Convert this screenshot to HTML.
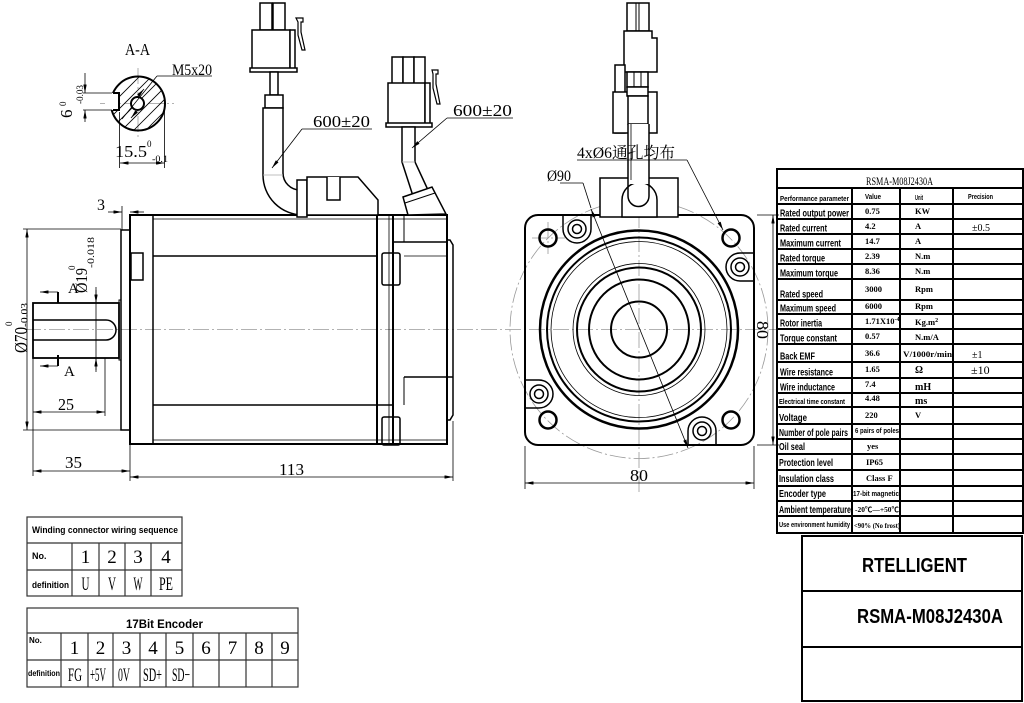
<!DOCTYPE html>
<html><head><meta charset="utf-8"><style>
html,body{margin:0;padding:0;background:#fff;}
svg{display:block;}
.d{font-family:"Liberation Serif","Noto Serif CJK SC",serif;font-size:17px;fill:#000;stroke:none;}
.s{font-family:"Liberation Serif",serif;font-size:9px;fill:#000;stroke:none;}
.l{font-family:"Liberation Sans","Noto Sans CJK SC",sans-serif;font-weight:bold;font-size:10px;fill:#000;stroke:none;}
.ls{font-family:"Liberation Sans",sans-serif;font-weight:bold;font-size:7.5px;fill:#000;stroke:none;}
.v{font-family:"Liberation Serif","Noto Sans CJK SC",serif;font-weight:bold;font-size:8.5px;fill:#000;stroke:none;}
.n{font-family:"Liberation Serif",serif;font-size:19px;fill:#000;stroke:none;}
</style></head><body>
<svg width="1024" height="703" viewBox="0 0 1024 703" xmlns="http://www.w3.org/2000/svg">
<defs>
<marker id="a" viewBox="0 0 10 4" refX="10" refY="2" markerWidth="9" markerHeight="3.4" markerUnits="userSpaceOnUse" orient="auto-start-reverse"><path d="M0,0L10,2L0,4z" fill="#000"/></marker>
<clipPath id="cs"><circle cx="138" cy="103.5" r="27"/></clipPath>
</defs>
<rect width="1024" height="703" fill="#fff"/>

<!-- center lines -->
<g stroke="#999" stroke-width="0.8" stroke-dasharray="16 3 2 3" fill="none">
<line x1="25" y1="329.5" x2="790" y2="329.5"/>
<line x1="639" y1="140" x2="639" y2="492"/>
<circle cx="639" cy="329.5" r="129"/>
<line x1="100" y1="103.5" x2="174" y2="103.5"/>
<line x1="138" y1="68" x2="138" y2="138"/>
<line x1="532" y1="238" x2="565" y2="238"/>
<line x1="548" y1="222" x2="548" y2="254"/>
</g>

<!-- ===== A-A section ===== -->
<g stroke="#000" fill="none">
<g clip-path="url(#cs)" stroke-width="0.8">
<line x1="80" y1="160" x2="190" y2="50"/>
<line x1="92" y1="160" x2="202" y2="50"/>
<line x1="104" y1="160" x2="214" y2="50"/>
<line x1="116" y1="160" x2="226" y2="50"/>
<line x1="128" y1="160" x2="238" y2="50"/>
<line x1="68" y1="160" x2="178" y2="50"/>
<line x1="56" y1="160" x2="166" y2="50"/>
<line x1="44" y1="160" x2="154" y2="50"/>
<line x1="32" y1="160" x2="142" y2="50"/>
</g>
<circle cx="138" cy="103.5" r="27" stroke-width="2"/>
<rect x="105" y="93" width="14" height="17" fill="#fff" stroke="none"/>
<path d="M113,93 H119 V110 H113" stroke-width="2"/>
<circle cx="137.5" cy="103.5" r="6.5" fill="#fff" stroke-width="2"/>
<g stroke-width="0.8">
<line x1="83" y1="93" x2="112" y2="93"/>
<line x1="83" y1="110" x2="112" y2="110"/>
<line x1="85" y1="73" x2="85" y2="93" marker-end="url(#a)"/>
<line x1="85" y1="122" x2="85" y2="110" marker-end="url(#a)"/>
<line x1="119.5" y1="112" x2="119.5" y2="168"/>
<line x1="164.5" y1="106" x2="164.5" y2="168"/>
<line x1="120" y1="163" x2="164.5" y2="163" marker-start="url(#a)" marker-end="url(#a)"/>
<line x1="157" y1="76" x2="212" y2="76"/>
<line x1="157" y1="76" x2="122" y2="119"/>
<line x1="138" y1="96" x2="144" y2="89" marker-end="url(#a)"/>
<line x1="137" y1="111" x2="131" y2="118" marker-end="url(#a)"/>
</g>
</g>
<text class="d" x="125" y="55" textLength="25" lengthAdjust="spacingAndGlyphs">A-A</text>
<text class="d" x="172" y="75" style="font-size:16px" textLength="40" lengthAdjust="spacingAndGlyphs">M5x20</text>
<text class="d" transform="translate(72,118) rotate(-90)">6</text>
<text class="s" transform="translate(66,106) rotate(-90)">0</text>
<text class="s" transform="translate(83,104) rotate(-90)" textLength="19" lengthAdjust="spacingAndGlyphs">-0.03</text>
<text class="d" x="115" y="157" textLength="32" lengthAdjust="spacingAndGlyphs">15.5</text>
<text class="s" x="147" y="147">0</text>
<text class="s" x="152" y="162" textLength="16" lengthAdjust="spacingAndGlyphs">-0.1</text>

<!-- ===== Side view ===== -->
<g stroke="#000" fill="none">
<rect x="121" y="230" width="9" height="200" stroke-width="1.5"/>
<rect x="119" y="300" width="2" height="60" stroke-width="1"/>
<rect x="33" y="303" width="86" height="55" stroke-width="1.8"/>
<path d="M33,320 H106 A10,10 0 0 1 106,340 H33" stroke-width="1.5"/>
<rect x="130" y="215" width="317" height="229" stroke-width="2"/>
<line x1="153" y1="215" x2="153" y2="444" stroke-width="1.5"/>
<line x1="377" y1="215" x2="377" y2="444" stroke-width="2"/>
<line x1="389" y1="215" x2="389" y2="444" stroke-width="0.8"/>
<line x1="393" y1="215" x2="393" y2="444" stroke-width="2"/>
<line x1="404" y1="215" x2="404" y2="242" stroke-width="1"/>
<line x1="404" y1="377" x2="404" y2="405" stroke-width="1"/>
<line x1="153" y1="219" x2="447" y2="219" stroke-width="0.8"/>
<line x1="153" y1="440" x2="447" y2="440" stroke-width="0.8"/>
<line x1="153" y1="256" x2="377" y2="256" stroke-width="1.6"/>
<line x1="404" y1="256" x2="447" y2="256" stroke-width="0.8"/>
<line x1="153" y1="405" x2="393" y2="405" stroke-width="1.6"/>
<line x1="393" y1="242" x2="447" y2="242" stroke-width="1.6"/>
<line x1="404" y1="377" x2="453" y2="377" stroke-width="1.6"/>
<path d="M447,240 H450 L453,245 V415 L450,420 H447" stroke-width="1.5"/>
<rect x="131" y="253" width="12" height="27" stroke-width="1.5"/>
<rect x="382" y="253" width="18" height="32" rx="2" stroke-width="1.5"/>
<rect x="382" y="417" width="18" height="28" rx="2" stroke-width="1.5"/>
</g>

<!-- side view connectors -->
<g stroke="#000" fill="#fff" stroke-width="1.5">
<rect x="260" y="3" width="12" height="27"/>
<rect x="273" y="3" width="12" height="27"/>
<rect x="252" y="30" width="38" height="40"/>
<rect x="290" y="30" width="5" height="40"/>
<rect x="250" y="68" width="47" height="4"/>
<path d="M296,18 h7 v4 h-2 v10 l4,18 h-3 l-4,-15 v-13 z" stroke-width="1.2"/>
<rect x="270" y="72" width="8" height="23"/>
<rect x="265" y="95" width="18" height="13"/>
<path d="M263,108 V175 A40,40 0 0 0 303,215 H307 V190 H300 A17,17 0 0 1 283,173 V108 Z"/>
<line x1="263" y1="175" x2="283" y2="175" stroke="#aaa" stroke-width="0.8"/>
<rect x="297" y="180" width="10" height="37"/>
<path d="M307,177 H358 L378,200 V215 H307 Z"/>
<path d="M327,177 V200 H340 V177"/>

<rect x="392" y="57" width="11" height="27"/>
<rect x="403" y="57" width="11" height="27"/>
<rect x="414" y="57" width="11" height="27"/>
<rect x="388" y="83" width="37" height="42"/>
<rect x="425" y="83" width="5" height="42"/>
<rect x="386" y="123" width="46" height="4"/>
<path d="M432,70 h6 v4 h-2 v10 l4,20 h-3 l-4,-16 v-14 z" stroke-width="1.2"/>
<path d="M402,127 V162 L413,196 L428,190 L415,162 V127 Z"/>
<line x1="402" y1="162" x2="415" y2="162" stroke="#aaa" stroke-width="0.8"/>
<path d="M403,197 L432,187 L446,214 L408,215 Z"/>
<line x1="405" y1="203" x2="435" y2="193" stroke-width="1"/>
</g>

<!-- side view dimensions -->
<g stroke="#000" stroke-width="0.8" fill="none">
<line x1="122" y1="206" x2="122" y2="230"/>
<line x1="108" y1="212" x2="122" y2="212" marker-end="url(#a)"/>
<line x1="144" y1="212" x2="130" y2="212" marker-end="url(#a)"/>
<line x1="23" y1="229" x2="121" y2="229"/>
<line x1="23" y1="430" x2="121" y2="430"/>
<line x1="27" y1="229" x2="27" y2="430" marker-start="url(#a)" marker-end="url(#a)"/>
<line x1="96" y1="287" x2="96" y2="372"/>
<line x1="96" y1="290" x2="96" y2="303" marker-end="url(#a)"/>
<line x1="96" y1="370" x2="96" y2="358" marker-end="url(#a)"/>
<line x1="58" y1="292" x2="58" y2="303" stroke-width="2"/>
<line x1="58" y1="355" x2="58" y2="366" stroke-width="2"/>
<line x1="58" y1="292" x2="40" y2="292" marker-end="url(#a)"/>
<line x1="58" y1="366" x2="40" y2="366" marker-end="url(#a)"/>
<line x1="33" y1="358" x2="33" y2="476"/>
<line x1="105" y1="358" x2="105" y2="416"/>
<line x1="33" y1="412" x2="105" y2="412" marker-start="url(#a)" marker-end="url(#a)"/>
<line x1="130" y1="444" x2="130" y2="481"/>
<line x1="453" y1="421" x2="453" y2="481"/>
<line x1="33" y1="471" x2="130" y2="471" marker-start="url(#a)" marker-end="url(#a)"/>
<line x1="130" y1="477" x2="453" y2="477" marker-start="url(#a)" marker-end="url(#a)"/>
<line x1="302" y1="129" x2="372" y2="129"/>
<line x1="302" y1="129" x2="272" y2="168" marker-end="url(#a)"/>
<line x1="447" y1="118" x2="513" y2="118"/>
<line x1="447" y1="118" x2="412" y2="148" marker-end="url(#a)"/>
</g>
<text class="d" x="97" y="210" style="font-size:16px">3</text>
<text class="d" transform="translate(27,353) rotate(-90)" style="font-size:18px" textLength="26" lengthAdjust="spacingAndGlyphs">Ø70</text>
<text class="s" transform="translate(12,326) rotate(-90)">0</text>
<text class="s" transform="translate(27.5,327) rotate(-90)" textLength="24" lengthAdjust="spacingAndGlyphs">-0.03</text>
<text class="d" transform="translate(87,293) rotate(-90)" textLength="25" lengthAdjust="spacingAndGlyphs">Ø19</text>
<text class="s" transform="translate(75,270) rotate(-90)">0</text>
<text class="s" transform="translate(94,268) rotate(-90)" textLength="31" lengthAdjust="spacingAndGlyphs">-0.018</text>
<text class="d" x="68" y="293" style="font-size:15px">A</text>
<text class="d" x="64" y="376" style="font-size:15px">A</text>
<text class="d" x="58" y="410" textLength="16" lengthAdjust="spacingAndGlyphs">25</text>
<text class="d" x="65" y="468" textLength="17" lengthAdjust="spacingAndGlyphs">35</text>
<text class="d" x="279" y="475" textLength="25" lengthAdjust="spacingAndGlyphs">113</text>
<text class="d" x="313" y="127" textLength="57" lengthAdjust="spacingAndGlyphs">600±20</text>
<text class="d" x="453" y="116" textLength="59" lengthAdjust="spacingAndGlyphs">600±20</text>

<!-- ===== Front view ===== -->
<g stroke="#000" fill="none">
<rect x="525" y="215" width="229" height="230" rx="13" stroke-width="2"/>
<circle cx="639" cy="329.5" r="99" stroke-width="2.5"/>
<circle cx="639" cy="329.5" r="92" stroke-width="2"/>
<circle cx="639" cy="329.5" r="88" stroke-width="0.8"/>
<circle cx="639" cy="329.5" r="66" stroke-width="0.8"/>
<circle cx="639" cy="329.5" r="62" stroke-width="2"/>
<circle cx="639" cy="329.5" r="50" stroke-width="2"/>
<circle cx="639" cy="329.5" r="28" stroke-width="2"/>
<g stroke-width="2.5">
<circle cx="548" cy="238" r="8.5"/>
<circle cx="731" cy="238" r="8.5"/>
<circle cx="548" cy="420" r="8.5"/>
<circle cx="731" cy="420" r="8.5"/>
</g>
<g stroke-width="1.5">
<path d="M563,215 V229 A14,14 0 0 0 591,229 V215"/>
<circle cx="577" cy="229" r="9"/><circle cx="577" cy="229" r="4.5"/>
<path d="M754,253 H740 A14,14 0 0 0 740,281 H754"/>
<circle cx="740" cy="267" r="9"/><circle cx="740" cy="267" r="4.5"/>
<path d="M525,380 H539 A14,14 0 0 1 539,408 H525"/>
<circle cx="539" cy="394" r="9"/><circle cx="539" cy="394" r="4.5"/>
<path d="M688,445 V431 A14,14 0 0 1 716,431 V445"/>
<circle cx="702" cy="431" r="9"/><circle cx="702" cy="431" r="4.5"/>
</g>
</g>
<!-- front connector -->
<g stroke="#000" fill="#fff" stroke-width="1.5">
<rect x="627" y="3" width="22" height="28"/>
<line x1="636" y1="3" x2="636" y2="31" stroke-width="1"/>
<line x1="639" y1="3" x2="639" y2="31" stroke-width="1"/>
<path d="M624,31 H652 V38 H657 V72 H624 Z"/>
<rect x="615" y="65" width="10" height="68"/>
<rect x="627" y="72" width="21" height="15"/>
<line x1="634" y1="72" x2="634" y2="87" stroke-width="1"/>
<line x1="641" y1="72" x2="641" y2="87" stroke-width="1"/>
<rect x="613" y="92" width="44" height="41"/>
<rect x="627" y="87" width="21" height="9"/>
<rect x="628" y="96" width="20" height="28"/>
<rect x="600" y="178" width="78" height="39"/>
<path d="M622,217 V200 A17.5,17.5 0 0 1 657,200 V217 Z"/>
<rect x="628" y="124" width="21" height="60" stroke="none"/>
<path d="M628,124 V196 A10.5,10.5 0 0 0 649,196 V124" fill="none"/>
<line x1="631" y1="124" x2="631" y2="180" stroke-width="0.8"/>
</g>
<g stroke="#000" stroke-width="0.8" fill="none">
<line x1="577" y1="160" x2="687" y2="160"/>
<line x1="687" y1="160" x2="723" y2="230" marker-end="url(#a)"/>
<line x1="560" y1="183" x2="583" y2="183"/>
<line x1="583" y1="183" x2="591" y2="208"/>
<line x1="591" y1="209" x2="688" y2="448" marker-start="url(#a)" marker-end="url(#a)"/>
<line x1="525" y1="446" x2="525" y2="489"/>
<line x1="754" y1="446" x2="754" y2="489"/>
<line x1="525" y1="483" x2="754" y2="483" marker-start="url(#a)" marker-end="url(#a)"/>
<line x1="757" y1="215" x2="779" y2="215"/>
<line x1="757" y1="445" x2="779" y2="445"/>
<line x1="773" y1="215" x2="773" y2="445" marker-start="url(#a)" marker-end="url(#a)"/>
</g>
<text class="d" x="577" y="158" style="font-size:16px" textLength="98" lengthAdjust="spacingAndGlyphs">4xØ6通孔均布</text>
<text class="d" x="547" y="181" style="font-size:16px" textLength="24" lengthAdjust="spacingAndGlyphs">Ø90</text>
<text class="d" x="630" y="481" textLength="18" lengthAdjust="spacingAndGlyphs">80</text>
<text class="d" transform="translate(757,321) rotate(90)" textLength="18" lengthAdjust="spacingAndGlyphs">80</text>

<!-- ===== Performance table ===== -->
<g stroke="#000" stroke-width="2" fill="none">
<rect x="777" y="169" width="246" height="364"/>
<line x1="777" y1="188" x2="1023" y2="188"/>
<line x1="777" y1="204" x2="1023" y2="204"/>
<line x1="777" y1="219" x2="1023" y2="219"/>
<line x1="777" y1="234" x2="1023" y2="234"/>
<line x1="777" y1="249" x2="1023" y2="249"/>
<line x1="777" y1="264" x2="1023" y2="264"/>
<line x1="777" y1="279" x2="1023" y2="279"/>
<line x1="777" y1="300" x2="1023" y2="300"/>
<line x1="777" y1="314" x2="1023" y2="314"/>
<line x1="777" y1="329" x2="1023" y2="329"/>
<line x1="777" y1="344" x2="1023" y2="344"/>
<line x1="777" y1="362" x2="1023" y2="362"/>
<line x1="777" y1="378" x2="1023" y2="378"/>
<line x1="777" y1="393" x2="1023" y2="393"/>
<line x1="777" y1="407" x2="1023" y2="407"/>
<line x1="777" y1="424" x2="1023" y2="424"/>
<line x1="777" y1="439" x2="1023" y2="439"/>
<line x1="777" y1="454" x2="1023" y2="454"/>
<line x1="777" y1="470" x2="1023" y2="470"/>
<line x1="777" y1="486" x2="1023" y2="486"/>
<line x1="777" y1="501" x2="1023" y2="501"/>
<line x1="777" y1="516" x2="1023" y2="516"/>
<line x1="852" y1="188" x2="852" y2="533"/>
<line x1="900" y1="188" x2="900" y2="533"/>
<line x1="953" y1="188" x2="953" y2="533"/>
</g>
<text class="v" x="866" y="185" style="font-size:12px;font-weight:normal" textLength="67" lengthAdjust="spacingAndGlyphs">RSMA-M08J2430A</text>
<text class="ls" x="780" y="201" textLength="69" lengthAdjust="spacingAndGlyphs">Performance parameter</text>
<text class="ls" x="865" y="199" textLength="16" lengthAdjust="spacingAndGlyphs">Value</text>
<text class="ls" x="915" y="200" textLength="8" lengthAdjust="spacingAndGlyphs">Unit</text>
<text class="ls" x="968" y="199" textLength="25" lengthAdjust="spacingAndGlyphs">Precision</text>

<g>
<text class="l" x="780" y="216.5" textLength="69" lengthAdjust="spacingAndGlyphs">Rated output power</text>
<text class="l" x="780" y="231.5" textLength="47" lengthAdjust="spacingAndGlyphs">Rated current</text>
<text class="l" x="780" y="246.5" textLength="61" lengthAdjust="spacingAndGlyphs">Maximum current</text>
<text class="l" x="780" y="261.5" textLength="45" lengthAdjust="spacingAndGlyphs">Rated torque</text>
<text class="l" x="780" y="276.5" textLength="58" lengthAdjust="spacingAndGlyphs">Maximum torque</text>
<text class="l" x="780" y="297.5" textLength="43" lengthAdjust="spacingAndGlyphs">Rated speed</text>
<text class="l" x="780" y="311.5" textLength="56" lengthAdjust="spacingAndGlyphs">Maximum speed</text>
<text class="l" x="780" y="326.5" textLength="42" lengthAdjust="spacingAndGlyphs">Rotor inertia</text>
<text class="l" x="780" y="341.5" textLength="57" lengthAdjust="spacingAndGlyphs">Torque constant</text>
<text class="l" x="780" y="359.5" textLength="35" lengthAdjust="spacingAndGlyphs">Back EMF</text>
<text class="l" x="780" y="375.5" textLength="53" lengthAdjust="spacingAndGlyphs">Wire resistance</text>
<text class="l" x="780" y="390.5" textLength="55" lengthAdjust="spacingAndGlyphs">Wire inductance</text>
<text class="ls" x="779" y="404" textLength="66" lengthAdjust="spacingAndGlyphs">Electrical time constant</text>
<text class="l" x="779" y="421" textLength="28" lengthAdjust="spacingAndGlyphs">Voltage</text>
<text class="l" x="779" y="436" textLength="69" lengthAdjust="spacingAndGlyphs">Number of pole pairs</text>
<text class="l" x="779" y="450" textLength="26" lengthAdjust="spacingAndGlyphs">Oil seal</text>
<text class="l" x="779" y="466" textLength="54" lengthAdjust="spacingAndGlyphs">Protection level</text>
<text class="l" x="779" y="482" textLength="55" lengthAdjust="spacingAndGlyphs">Insulation class</text>
<text class="l" x="779" y="497" textLength="47" lengthAdjust="spacingAndGlyphs">Encoder type</text>
<text class="l" x="779" y="513" textLength="72" lengthAdjust="spacingAndGlyphs">Ambient temperature</text>
<text class="ls" x="779" y="527" textLength="71" lengthAdjust="spacingAndGlyphs">Use environment humidity</text>
</g>
<g>
<text class="v" x="865" y="214">0.75</text>
<text class="v" x="865" y="229">4.2</text>
<text class="v" x="865" y="244">14.7</text>
<text class="v" x="865" y="259">2.39</text>
<text class="v" x="865" y="274">8.36</text>
<text class="v" x="865" y="292">3000</text>
<text class="v" x="865" y="309">6000</text>
<text class="v" x="865" y="324">1.71X10<tspan font-size="6" dy="-3">-4</tspan></text>
<text class="v" x="865" y="339">0.57</text>
<text class="v" x="865" y="356">36.6</text>
<text class="v" x="865" y="372">1.65</text>
<text class="v" x="865" y="387">7.4</text>
<text class="v" x="865" y="401">4.48</text>
<text class="v" x="865" y="418">220</text>
<text class="ls" x="855" y="433" textLength="44" lengthAdjust="spacingAndGlyphs">6 pairs of poles</text>
<text class="v" x="867" y="449">yes</text>
<text class="v" x="866" y="465">IP65</text>
<text class="v" x="866" y="481">Class F</text>
<text class="ls" x="853" y="496" textLength="46" lengthAdjust="spacingAndGlyphs">17-bit magnetic</text>
<text class="v" x="855" y="512" style="font-size:7.5px" textLength="44" lengthAdjust="spacingAndGlyphs">-20℃—+50℃</text>
<text class="v" x="854" y="528" style="font-size:7.5px" textLength="46" lengthAdjust="spacingAndGlyphs">&lt;90% (No frost)</text>

<text class="v" x="915" y="214">KW</text>
<text class="v" x="915" y="229">A</text>
<text class="v" x="915" y="244">A</text>
<text class="v" x="915" y="259">N.m</text>
<text class="v" x="915" y="274">N.m</text>
<text class="v" x="915" y="292">Rpm</text>
<text class="v" x="915" y="309">Rpm</text>
<text class="v" x="915" y="325">Kg.m<tspan font-size="6" dy="-3">2</tspan></text>
<text class="v" x="915" y="340">N.m/A</text>
<text class="v" x="903" y="357" style="font-size:8px" textLength="49" lengthAdjust="spacingAndGlyphs">V/1000r/min</text>
<text class="v" x="915" y="373" style="font-size:10px">Ω</text>
<text class="v" x="915" y="390" style="font-size:10px">mH</text>
<text class="v" x="915" y="404" style="font-size:10px">ms</text>
<text class="v" x="915" y="418">V</text>

<text class="v" x="972" y="231" style="font-size:10px;font-weight:normal">±0.5</text>
<text class="v" x="972" y="358" style="font-size:10px;font-weight:normal">±1</text>
<text class="v" x="971" y="374" style="font-size:12px;font-weight:normal">±10</text>
</g>

<!-- Title block -->
<g stroke="#000" stroke-width="2" fill="none">
<rect x="802" y="536" width="220" height="165"/>
<line x1="802" y1="591" x2="1022" y2="591"/>
<line x1="802" y1="647" x2="1022" y2="647"/>
</g>
<text class="l" x="862" y="572" style="font-size:20px" textLength="105" lengthAdjust="spacingAndGlyphs">RTELLIGENT</text>
<text class="l" x="857" y="623" style="font-size:20px" textLength="146" lengthAdjust="spacingAndGlyphs">RSMA-M08J2430A</text>

<!-- Winding table -->
<g stroke="#333" stroke-width="1.2" fill="none">
<rect x="27" y="517" width="155" height="79"/>
<line x1="27" y1="543" x2="182" y2="543"/>
<line x1="27" y1="570" x2="182" y2="570"/>
<line x1="72" y1="543" x2="72" y2="596"/>
<line x1="99" y1="543" x2="99" y2="596"/>
<line x1="125" y1="543" x2="125" y2="596"/>
<line x1="151" y1="543" x2="151" y2="596"/>
</g>
<text class="l" x="32" y="533" style="font-size:9px" textLength="146" lengthAdjust="spacingAndGlyphs">Winding connector wiring sequence</text>
<text class="l" x="32" y="559" style="font-size:9px">No.</text>
<text class="l" x="32" y="588" style="font-size:9px" textLength="37" lengthAdjust="spacingAndGlyphs">definition</text>
<text class="n" x="85.5" y="563" text-anchor="middle">1</text>
<text class="n" x="112" y="563" text-anchor="middle">2</text>
<text class="n" x="138" y="563" text-anchor="middle">3</text>
<text class="n" x="166" y="563" text-anchor="middle">4</text>
<text class="n" x="85.5" y="590" text-anchor="middle" textLength="8" lengthAdjust="spacingAndGlyphs">U</text>
<text class="n" x="112" y="590" text-anchor="middle" textLength="8" lengthAdjust="spacingAndGlyphs">V</text>
<text class="n" x="138" y="590" text-anchor="middle" textLength="9" lengthAdjust="spacingAndGlyphs">W</text>
<text class="n" x="166" y="590" text-anchor="middle" textLength="14" lengthAdjust="spacingAndGlyphs">PE</text>

<!-- Encoder table -->
<g stroke="#333" stroke-width="1.2" fill="none">
<rect x="27" y="608" width="271" height="79"/>
<line x1="27" y1="633" x2="298" y2="633"/>
<line x1="27" y1="660" x2="298" y2="660"/>
<line x1="61" y1="633" x2="61" y2="687"/>
<line x1="88" y1="633" x2="88" y2="687"/>
<line x1="113" y1="633" x2="113" y2="687"/>
<line x1="140" y1="633" x2="140" y2="687"/>
<line x1="166" y1="633" x2="166" y2="687"/>
<line x1="193" y1="633" x2="193" y2="687"/>
<line x1="219" y1="633" x2="219" y2="687"/>
<line x1="246" y1="633" x2="246" y2="687"/>
<line x1="272" y1="633" x2="272" y2="687"/>
</g>
<text class="l" x="126" y="628" style="font-size:12px" textLength="77" lengthAdjust="spacingAndGlyphs">17Bit Encoder</text>
<text class="l" x="29" y="643" style="font-size:8px">No.</text>
<text class="l" x="28" y="676" style="font-size:8px" textLength="32" lengthAdjust="spacingAndGlyphs">definition</text>
<text class="n" x="74.5" y="654" text-anchor="middle">1</text>
<text class="n" x="100.5" y="654" text-anchor="middle">2</text>
<text class="n" x="126.5" y="654" text-anchor="middle">3</text>
<text class="n" x="153" y="654" text-anchor="middle">4</text>
<text class="n" x="179.5" y="654" text-anchor="middle">5</text>
<text class="n" x="206" y="654" text-anchor="middle">6</text>
<text class="n" x="232.5" y="654" text-anchor="middle">7</text>
<text class="n" x="259" y="654" text-anchor="middle">8</text>
<text class="n" x="285" y="654" text-anchor="middle">9</text>
<text class="n" x="68" y="681" textLength="14" lengthAdjust="spacingAndGlyphs">FG</text>
<text class="n" x="90" y="681" textLength="16" lengthAdjust="spacingAndGlyphs">+5V</text>
<text class="n" x="118" y="681" textLength="12" lengthAdjust="spacingAndGlyphs">0V</text>
<text class="n" x="143" y="681" textLength="19" lengthAdjust="spacingAndGlyphs">SD+</text>
<text class="n" x="172" y="681" textLength="18" lengthAdjust="spacingAndGlyphs">SD−</text>
</svg>
</body></html>
